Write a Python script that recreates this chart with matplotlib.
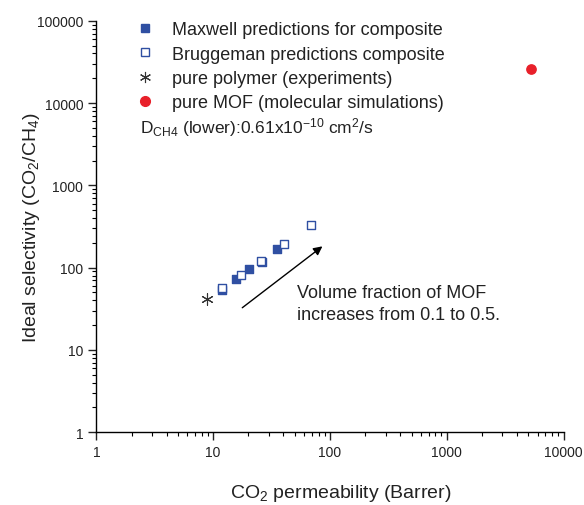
import numpy as np
import matplotlib

matplotlib.use('Agg')
import matplotlib.pyplot as plt
from matplotlib.lines import Line2D

plt.rcParams['font.family'] = ['Liberation Sans', 'DejaVu Sans']
plt.rcParams['mathtext.fontset'] = 'custom'
plt.rcParams['mathtext.rm'] = 'Liberation Sans'
plt.rcParams['mathtext.it'] = 'Liberation Sans'
plt.rcParams['mathtext.default'] = 'regular'

# CO2 permeability (Barrer) vs ideal selectivity
maxwell_perm = [11.8, 15.6, 20.3, 26.3, 35.3]
maxwell_sel = [54, 73, 96, 118, 168]
brugg_perm = [12.0, 17.2, 25.6, 40.8, 68.6]
brugg_sel = [56, 81, 121, 194, 333]
polymer_perm = [8.8]
polymer_sel = [41]
mof_perm = [5250]
mof_sel = [26000]

blue = '#2F4FA2'
red = '#E8202A'
txt = '#222222'

fig = plt.figure(figsize=(5.84, 5.06), dpi=100)
ax = fig.add_axes([0.165, 0.144, 0.800, 0.813])

ax.scatter(maxwell_perm, maxwell_sel, marker='s', s=30, color=blue, zorder=3)
ax.scatter(brugg_perm, brugg_sel, marker='s', s=30, facecolor='white',
           edgecolor=blue, linewidth=1.0, zorder=4)
ax.scatter(polymer_perm, polymer_sel, marker=(6, 2, 0), s=70, color='#333333',
           linewidth=0.8, zorder=3)
ax.scatter(mof_perm, mof_sel, marker='o', s=45, color=red, zorder=3)

ax.set_xscale('log')
ax.set_yscale('log')
ax.set_xlim(1, 10000)
ax.set_ylim(1, 100000)
ax.set_xticks([1, 10, 100, 1000, 10000])
ax.set_xticklabels(['1', '10', '100', '1000', '10000'])
ax.set_yticks([1, 10, 100, 1000, 10000, 100000])
ax.set_yticklabels(['1', '10', '100', '1000', '10000', '100000'])

for side in ['top', 'right']:
    ax.spines[side].set_visible(False)
for side in ['left', 'bottom']:
    ax.spines[side].set_linewidth(1.0)
ax.tick_params(which='major', direction='out', length=6, width=1.0,
               labelsize=10, colors=txt)
ax.tick_params(which='minor', direction='out', length=3, width=0.8)

ax.set_xlabel('CO$_2$ permeability (Barrer)', fontsize=14, color=txt)
ax.xaxis.set_label_coords(0.522, -0.122)
ax.set_ylabel('Ideal selectivity (CO$_2$/CH$_4$)', fontsize=14, labelpad=-4,
              color=txt)

ax.annotate('', xy=(90, 190), xytext=(17, 31),
            arrowprops=dict(arrowstyle='-|>', color='black', lw=1.0,
                            mutation_scale=13))
ax.text(52, 36.6, 'Volume fraction of MOF\nincreases from 0.1 to 0.5.',
        fontsize=13, ha='left', va='center', linespacing=1.45,
        color=txt)

handles = [
    Line2D([], [], ls='', marker='s', ms=6, color=blue),
    Line2D([], [], ls='', marker='s', ms=6, mfc='white', mec=blue, mew=1.0),
    Line2D([], [], ls='', marker=(6, 2, 0), ms=8, color='#333333', mew=0.8),
    Line2D([], [], ls='', marker='o', ms=7, color=red),
]
labels = ['Maxwell predictions for composite',
          'Bruggeman predictions composite',
          'pure polymer (experiments)',
          'pure MOF (molecular simulations)']
leg = ax.legend(handles, labels, loc='upper left', bbox_to_anchor=(0.05, 1.038),
                frameon=False, fontsize=13, handlelength=1.0,
                handletextpad=1.0, labelspacing=0.4)
for t in leg.get_texts():
    t.set_color(txt)

ax.text(0.094, 0.742, 'D$_{CH4}$ (lower):0.61x10$^{-10}$ cm$^2$/s',
        transform=ax.transAxes, fontsize=12.5, ha='left', va='center',
        color=txt)

fig.savefig('out.png', dpi=100)
